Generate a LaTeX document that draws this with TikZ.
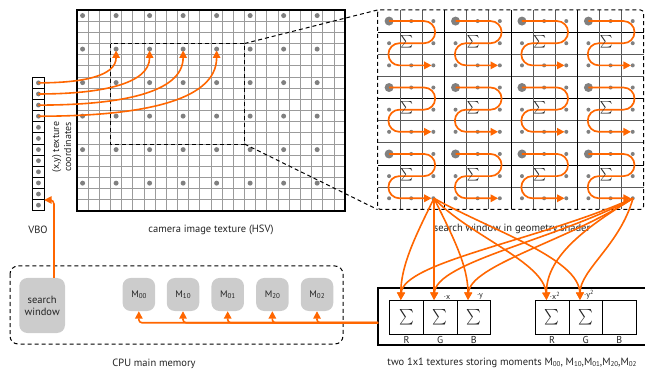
\documentclass[tikz,border=0pt]{standalone}
\usepackage{graphicx}
\usepackage{fontspec}
\setmainfont{PT Sans}
\usetikzlibrary{arrows.meta}
\definecolor{org}{RGB}{255,102,0}
\definecolor{dotgray}{RGB}{128,128,128}
\definecolor{gridgray}{RGB}{155,155,155}
\definecolor{boxgray}{RGB}{204,204,204}
\definecolor{txt}{RGB}{35,35,35}
\newcommand\mom[1]{M\raisebox{-0.1ex}{\fontsize{7}{7}\selectfont #1}}
\newcommand\bigsig{\scalebox{1.4}[1.55]{$\sum$}}
\newcommand\smsig{\scalebox{1.2}[1.25]{$\sum$}}
\begin{document}
\begin{tikzpicture}[x=1pt,y=-1pt,
  font=\fontsize{10.5}{12}\selectfont, text=txt,
  oarrow/.style={draw=org, line width=1.6pt, -{Triangle[length=7.5pt,width=7.5pt]}},
  serp/.style={draw=org, line width=1.7pt, rounded corners=11pt, -{Triangle[length=7.5pt,width=7.5pt]}},
  dsh/.style={line width=1pt, dash pattern=on 4pt off 3pt},
  mbox/.style={fill=boxgray, rounded corners=8pt, minimum width=32.5pt, minimum height=33pt, inner sep=0pt, font=\fontsize{9.5}{10}\selectfont},
  cell/.style={draw, line width=0.8pt, minimum width=33.6pt, minimum height=34pt, inner sep=0pt, anchor=north west},
  lbl/.style={inner sep=0pt, font=\fontsize{10.5}{12}\selectfont},
  sml/.style={inner sep=0pt, anchor=south, font=\fontsize{8}{9}\selectfont}
]
\useasboundingbox (0,0) rectangle (645,371);
\def\camS{11.17}
\def\swS{22.15}
\def\vboS{11.12}
% ---------- camera image texture ----------
\foreach \i in {1,...,23} \draw[gridgray, line width=0.8pt] ({77+\i*\camS},10) -- ({77+\i*\camS},{10+18*\camS});
\foreach \j in {1,...,17} \draw[gridgray, line width=0.8pt] (77,{10+\j*\camS}) -- ({77+24*\camS},{10+\j*\camS});
\draw[line width=1.2pt] (77,10) rectangle ({77+24*\camS},{10+18*\camS});
\foreach \i in {0,...,7} \foreach \j in {0,...,5}
  \fill[dotgray] ({77+(3*\i+0.5)*\camS},{10+(3*\j+0.5)*\camS}) circle[radius=2.5];
\coordinate (cwTL) at ({77+3*\camS},{10+3*\camS});
\coordinate (cwTR) at ({77+15*\camS},{10+3*\camS});
\coordinate (cwBR) at ({77+15*\camS},{10+12*\camS});
\draw[dsh] (cwTL) rectangle (cwBR);
% ---------- search window ----------
\coordinate (swTL) at (377.5,10);
\coordinate (swBL) at (377.5,209.5);
\draw[dsh] (cwTR) -- (swTL);
\draw[dsh] (cwBR) -- (swBL);
\begin{scope}[shift={(378,10)}]
  \foreach \r in {1,...,8} {
    \pgfmathtruncatemacro\rm{mod(\r,3)}
    \ifnum\rm=1 \draw[black, line width=0.8pt] (0,{\r*\swS}) -- ({12*\swS},{\r*\swS});
    \else \draw[black!65, line width=1pt] (0,{\r*\swS}) -- ({12*\swS},{\r*\swS}); \fi}
  \foreach \q in {1,...,11} {
    \pgfmathtruncatemacro\qm{mod(\q,3)}
    \ifnum\qm=0 \draw[black, line width=0.8pt] ({\q*\swS},0) -- ({\q*\swS},{9*\swS});
    \else \draw[black!65, line width=1pt] ({\q*\swS},0) -- ({\q*\swS},{9*\swS}); \fi}
\end{scope}
\draw[dsh, rounded corners=3pt] (377.5,10) rectangle (643.5,209.5);
\foreach \i in {0,...,3}{\foreach \j in {0,...,2}{
  \begin{scope}[shift={({378+3*\i*\swS},{10+3*\j*\swS})}]
    \fill[dotgray] ({0.5*\swS},{0.5*\swS}) circle[radius=4.5];
    \foreach \a/\b in {1/0,2/0,0/1,2/1,0/2,1/2,2/2}
      \fill[dotgray] ({(\a+0.5)*\swS},{(\b+0.5)*\swS}) circle[radius=2];
    \draw[serp] ({0.5*\swS},{0.5*\swS}) -- ({2.58*\swS},{0.5*\swS}) -- ({2.58*\swS},{1.5*\swS})
       -- ({0.47*\swS},{1.5*\swS}) -- ({0.47*\swS},{2.5*\swS}) -- ({2.42*\swS},{2.5*\swS});
    \node[inner sep=0pt] (sig\i\j) at ({1.3*\swS},{1.42*\swS}) {\smsig};
  \end{scope}}}
% ---------- VBO ----------
\foreach \k in {0,...,11} {
  \draw[line width=0.8pt] (32.7,{77.3+\k*\vboS}) rectangle (44.2,{77.3+(\k+1)*\vboS});
  \fill[dotgray] (38.45,{77.3+(\k+0.5)*\vboS}) circle[radius=2.4];}
\draw[line width=1.2pt] (32.7,77.3) rectangle (44.2,{77.3+12*\vboS});
\foreach \k in {0,...,3} {
  \coordinate (vb\k) at (38.45,{77.3+(\k+0.5)*\vboS});
  \coordinate (im\k) at ({77+(3*\k+3.5)*\camS},50.5);}
\draw[oarrow] (vb0) .. controls +(43,0) and +(0,26) .. (im0);
\draw[oarrow] (vb1) .. controls +(61,0) and +(0,34) .. (im1);
\draw[oarrow] (vb2) .. controls +(80,0) and +(0,43) .. (im2);
\draw[oarrow] (vb3) .. controls +(98,0) and +(0,52) .. (im3);
\node[rotate=90, align=center, inner sep=0pt, font=\fontsize{10}{12}\selectfont] (tcoord) at (61.5,147) {(x,y) texture\\coordinates};
% ---------- labels ----------
\node[lbl] (lvbo) at (38,230) {VBO};
\node[lbl] (lcam) at (211,230) {camera image texture (HSV)};
\node[lbl] (lsw) at (512,229) {search window in geometry shader};
\node[lbl] (lcpu) at (154,364) {CPU main memory};
\node[lbl] (ltex) at (512,363) {two 1x1 textures storing moments \mom{00}, \mom{10},\mom{01},\mom{20},\mom{02}};
% ---------- CPU memory ----------
\draw[dsh, rounded corners=8pt] (10,266) rectangle (343,344);
\node[mbox, minimum width=45.7pt, minimum height=55pt, align=center, font=\fontsize{10.5}{12}\selectfont] (swin) at (42.15,305.5) {search\\window};
\node[mbox] (m00) at (138.85,294.5) {\mom{00}};
\node[mbox] (m10) at (183,294.5) {\mom{10}};
\node[mbox] (m01) at (227.7,294.5) {\mom{01}};
\node[mbox] (m20) at (272.35,294.5) {\mom{20}};
\node[mbox] (m02) at (317,294.5) {\mom{02}};
\coordinate (swtop) at (54,278);
\coordinate (vboin) at (44.2,200);
\draw[oarrow, rounded corners=4pt] (swtop) |- (vboin);
% ---------- textures ----------
\draw[line width=1.2pt] (646,288) -- (378,288) -- (378,345) -- (646,345);
\node[cell] (r1) at (389.3,300) {};
\node[cell] (g1) at (422.9,300) {};
\node[cell] (b1) at (456.5,300) {};
\node[cell] (r2) at (535,300) {};
\node[cell] (g2) at (568.6,300) {};
\node[cell] (b2) at (602.2,300) {};
\foreach \n in {r1,g1,b1,r2,g2} \node[inner sep=0pt] (s\n) at (\n.center) {\bigsig};
\foreach \n/\t in {r1/R,g1/G,b1/B,r2/R,g2/G,b2/B} \node[lbl, font=\fontsize{10}{11}\selectfont] (l\n) at ([yshift=-5.5pt]\n.south) {\t};
\node[sml] (lx) at (447,299.3) {·x};
\node[sml] (ly) at (480,299.3) {·y};
\node[sml] (lx2) at (555,299.3) {·x\textsuperscript{2}};
\node[sml] (ly2) at (589,299.3) {·y\textsuperscript{2}};
\coordinate (tx) at (378,322.7);
\foreach \m in {m00,m10,m01,m20,m02} \draw[oarrow, rounded corners=3pt] (tx) -| (\m.south);
% ---------- shader -> textures ----------
\coordinate (A) at (434,198.3);
\coordinate (B) at (633,198.3);
\coordinate (tR1) at (400.8,300);
\coordinate (tG1) at (434,300);
\coordinate (tB1) at (468,300);
\coordinate (tR2) at (546.5,300);
\coordinate (tG2) at (580,300);
\draw[oarrow] (A) .. controls (416,235) and (400.8,265) .. (tR1);
\draw[oarrow] (A) -- (tG1);
\draw[oarrow] (A) .. controls (452,235) and (468,265) .. (tB1);
\draw[oarrow] (A) .. controls (468,235) and (544,262) .. (tR2);
\draw[oarrow] (A) .. controls (490,230) and (579,258) .. (tG2);
\draw[oarrow] (B) .. controls (540,240) and (403,262) .. (tR1);
\draw[oarrow] (B) .. controls (555,240) and (436,262) .. (tG1);
\draw[oarrow] (B) .. controls (570,240) and (470,265) .. (tB1);
\draw[oarrow] (B) .. controls (590,225) and (546,255) .. (tR2);
\draw[oarrow] (B) .. controls (620,245) and (580,270) .. (tG2);
\end{tikzpicture}
\end{document}
